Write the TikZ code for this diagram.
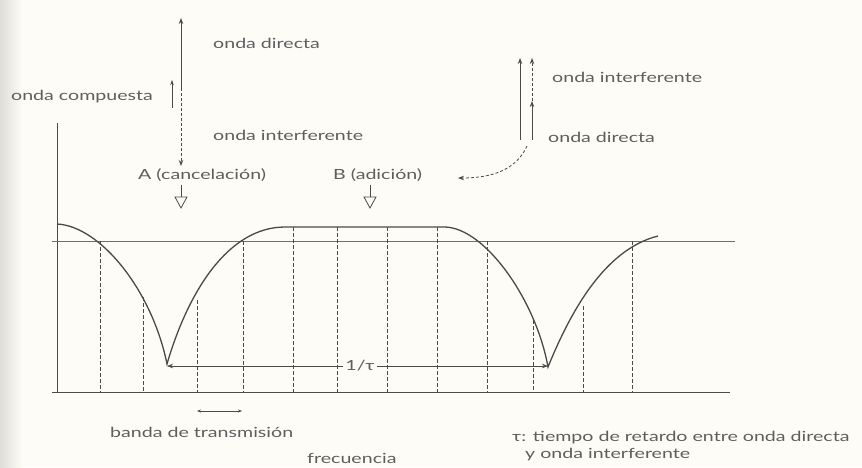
\documentclass[tikz,border=0pt]{standalone}
\usepackage{fontspec}
\setmainfont{Lato}[FakeStretch=1.4]
\usetikzlibrary{arrows.meta}
\definecolor{ink}{HTML}{4A4A4A}
\definecolor{txt}{HTML}{5E5E5E}
\definecolor{paper}{HTML}{FDFCF6}
\begin{document}
\begin{tikzpicture}[x=1pt,y=-1pt,
  lbl/.style={text=txt,font=\fontsize{14}{16}\selectfont,inner sep=0pt,anchor=west},
  thin/.style={draw=ink,line width=0.7pt},
  curve/.style={draw=ink,line width=1.3pt},
  dsh/.style={draw=ink,line width=0.7pt,dash pattern=on 3.5pt off 2.5pt},
  vec/.style={draw=ink,line width=1pt,-{Stealth[length=6pt,width=4.5pt]}},
  dvec/.style={draw=ink,line width=1pt,dash pattern=on 3pt off 2pt,-{Stealth[length=6pt,width=4.5pt]}},
  hollow/.style={draw=ink,line width=0.8pt}]
\useasboundingbox (0,0) rectangle (862,467);
\fill[paper] (0,0) rectangle (862,467);
\fill[left color=black!12!paper,right color=paper] (0,0) rectangle (22,467);

% axes
\coordinate (ytop) at (57,123);
\coordinate (orig) at (57,392);
\coordinate (xend) at (730,392);
\draw[thin] (ytop) -- (orig);
\draw[thin] (52,392) -- (xend);
% threshold
\coordinate (thL) at (52,241);
\coordinate (thR) at (735,241);
\draw[thin,draw=ink!80] (thL) -- (thR);

% vertical lines
\foreach \x/\y in {100/241,143/297,197/300,243/241,293/227,337/227,387/227,437/227,487/241,533/320,583/306,632/241}{
  \draw[dsh] (\x,\y) -- (\x,392);
}

% response curve
\coordinate (c0) at (57,224);
\coordinate (m1) at (167,364);
\coordinate (t1) at (285,227);
\coordinate (t2) at (445,227);
\coordinate (m2) at (548,367);
\coordinate (c5) at (658,236);
\draw[curve] (c0) .. controls (100,226) and (152,290) .. (m1)
  .. controls (188,292) and (228,227) .. (t1) -- (t2)
  .. controls (485,228) and (536,300) .. (m2)
  .. controls (568,318) and (602,250) .. (c5);

% 1/tau
\node[text=txt,font=\fontsize{14}{16}\selectfont,fill=paper,inner sep=2pt] (tau) at (360,366) {1/τ};
\coordinate (tl) at (167,366);
\coordinate (tr) at (548,366);
\draw[thin,-{Stealth[length=6pt,width=4.5pt]}] (tau.west) -- (tl);
\draw[thin,-{Stealth[length=6pt,width=4.5pt]}] (tau.east) -- (tr);

% band arrow
\coordinate (bl) at (197,411);
\coordinate (br) at (242,411);
\draw[thin,{Stealth[length=4pt,width=3pt]}-{Stealth[length=4pt,width=3pt]}] (bl) -- (br);

% bottom labels
\node[lbl] (banda) at (110,432) {banda de transmisión};
\node[lbl] (frec) at (307,458) {frecuencia};
\node[lbl] (def1) at (512,438) {τ: tiempo de retardo entre onda directa};
\node[lbl] (def2) at (525,455) {y onda interferente};

% top-left vectors (cancellation)
\coordinate (a0) at (181,88);
\coordinate (a1) at (181,18);
\coordinate (a2) at (181,166);
\draw[vec] (a0) -- (a1);
\draw[dvec] (a0) -- (a2);
\coordinate (k0) at (172,108);
\coordinate (k1) at (172,80);
\draw[thin,-{Stealth[length=5pt,width=3.5pt]}] (k0) -- (k1);
\node[lbl] (od1) at (213,43) {onda directa};
\node[lbl] (oc) at (11,97) {onda compuesta};
\node[lbl] (oi1) at (213,135) {onda interferente};

% A / B labels with hollow arrows
\node[lbl] (A) at (138,175) {A (cancelación)};
\node[lbl] (B) at (333,175) {B (adición)};
\foreach \x in {181,370}{
  \draw[hollow] (\x,185) -- (\x,197);
  \draw[hollow] (\x-6,197) -- (\x+6,197) -- (\x,208) -- cycle;
}

% top-right vectors (addition)
\coordinate (r0) at (520,140);
\coordinate (r1) at (520,58);
\coordinate (s0) at (532,140);
\coordinate (s1) at (532,101);
\coordinate (s2) at (532,58);
\draw[vec] (r0) -- (r1);
\draw[vec] (s0) -- (s1);
\draw[dvec] (s1) -- (s2);
\node[lbl] (oi2) at (552,77) {onda interferente};
\node[lbl] (od2) at (548,137) {onda directa};
\coordinate (q0) at (527,146);
\coordinate (q1) at (458,178);
\draw[dvec,line width=0.8pt] (q0) .. controls (516,170) and (492,178) .. (q1);
\end{tikzpicture}
\end{document}
